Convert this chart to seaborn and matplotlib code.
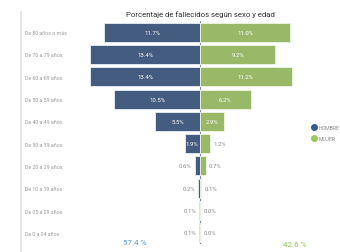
import matplotlib
matplotlib.use("Agg")
import matplotlib.pyplot as plt
import seaborn as sns
import pandas as pd
from matplotlib.lines import Line2D

# Data
edades = ["De 80 años o más", "De 70 a 79 años", "De 60 a 69 años", "De 50 a 59 años",
          "De 40 a 49 años", "De 30 a 39 años", "De 20 a 29 años", "De 10 a 19 años",
          "De 05 a 09 años", "De 0 a 04 años"]
hombre = [11.7, 13.4, 13.4, 10.5, 5.5, 1.9, 0.6, 0.2, 0.1, 0.1]
mujer = [11.0, 9.2, 11.2, 6.2, 2.9, 1.2, 0.7, 0.1, 0.0, 0.0]
total_hombre = "57.4 %"
total_mujer = "42.6 %"

AZUL = "#3b5a8b"
VERDE = "#9cc75a"
GRIS = "#8a8a8a"

df = pd.DataFrame({"edad": edades, "hombre": hombre, "mujer": mujer})
df["hombre_neg"] = -df["hombre"]

sns.set_style("white")
plt.rcParams["font.family"] = ["Roboto", "DejaVu Sans"]

fig = plt.figure(figsize=(3.4, 2.53), dpi=100)
ax = fig.add_axes([20 / 340, 1 - 245 / 253, 320 / 340, 223 / 253])

sns.barplot(data=df, x="hombre_neg", y="edad", color=AZUL, orient="h",
            width=0.85, ax=ax, edgecolor="#e8eef6", linewidth=0.6)
sns.barplot(data=df, x="mujer", y="edad", color=VERDE, orient="h",
            width=0.85, ax=ax, edgecolor="#eef6e4", linewidth=0.6)

ax.set_xlim(-22.0, 17.1)
ax.set_ylim(9.5, -0.5)
ax.set_xlabel("")
ax.set_ylabel("")
ax.set_xticks([])
for s in ax.spines.values():
    s.set_visible(False)

ax.set_yticks(range(len(edades)))
ax.set_yticklabels(edades, ha="left", fontsize=3.8, color="#9a9a9a")
ax.tick_params(axis="y", length=0, pad=-3.6)

# value labels
for i, (h, m) in enumerate(zip(hombre, mujer)):
    if h >= 1.5:
        ax.text(-h / 2, i, f"{h:.1f}%", ha="center", va="center", fontsize=4.3, color="white")
    else:
        ax.text(-h - 0.4, i, f"{h:.1f}%", ha="right", va="center", fontsize=4.3, color=GRIS)
    if m >= 1.5:
        ax.text(m / 2, i, f"{m:.1f}%", ha="center", va="center", fontsize=4.3, color="white")
    else:
        ax.text(m + 0.4, i, f"{m:.1f}%", ha="left", va="center", fontsize=4.3, color=GRIS)

ax.axvline(0, color="#7f8fa8", linewidth=0.8, zorder=0)

# totals
fig.text(135 / 340, 1 - 243 / 253, total_hombre, ha="center", va="center",
         fontsize=5.8, color="#5b9bd5")
fig.text(295 / 340, 1 - 245 / 253, total_mujer, ha="center", va="center",
         fontsize=5.8, color=VERDE)

# title
fig.text(200 / 340, 1 - 15 / 253, "Porcentaje de fallecidos según sexo y edad",
         ha="center", va="center", fontsize=5.6, color="#333333")

# frame line on the left
fig.add_artist(Line2D([21 / 340, 21 / 340], [1 - 13 / 253, 0], color="#e0e0e0", linewidth=1.2))

# legend
handles = [Line2D([], [], marker="o", linestyle="", color=AZUL, markersize=4),
           Line2D([], [], marker="o", linestyle="", color=VERDE, markersize=4)]
fig.legend(handles, ["HOMBRE", "MUJER"], loc="center left",
           bbox_to_anchor=(309 / 340, 1 - 134 / 253), frameon=False,
           fontsize=3.8, labelcolor="#8a8a8a", handletextpad=0.4,
           labelspacing=1.1, borderpad=0, handlelength=1.0)

fig.savefig("out.png", dpi=100)
